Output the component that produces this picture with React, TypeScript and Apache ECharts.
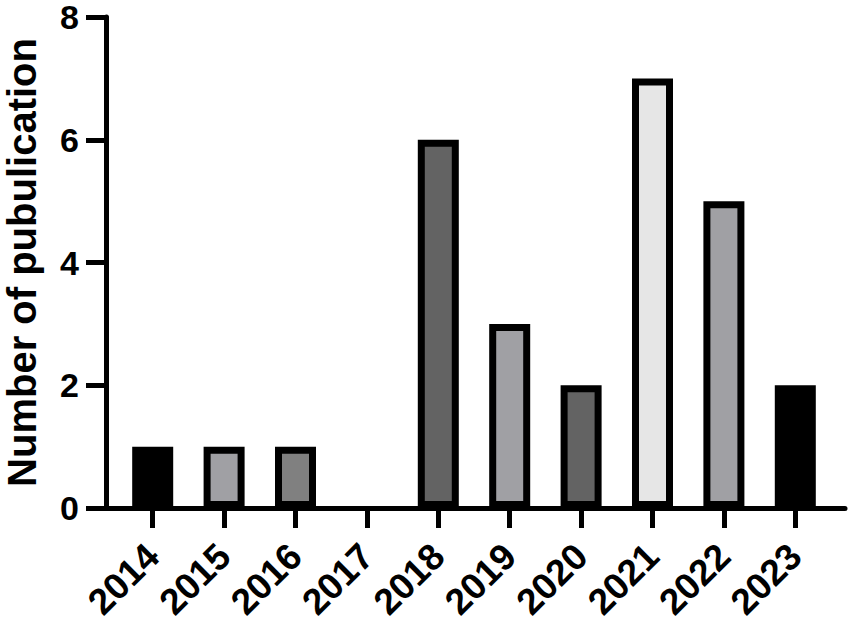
import React, { useEffect, useRef } from "react";
import * as echarts from "echarts";

const categories = ["2014", "2015", "2016", "2017", "2018", "2019", "2020", "2021", "2022", "2023"];
const values = [1, 1, 1, 0, 6, 3, 2, 7, 5, 2];
const barColors = ["#000000", "#a0a0a4", "#808080", "#808080", "#636363", "#a0a0a4", "#636363", "#e6e6e6", "#a0a0a4", "#000000"];
const yTicks = [0, 2, 4, 6, 8];
const yTitle = "Number of pubulication";

const FONT = "'Liberation Sans', Arial, Helvetica, sans-serif";

export default function App() {
  const ref = useRef<HTMLDivElement>(null);
  useEffect(() => {
    if (!ref.current) return;
    const chart = echarts.init(ref.current, undefined, { renderer: "svg" });
    chart.setOption({
      animation: false,
      backgroundColor: "#ffffff",
      grid: [
        { left: 117, right: 20, top: 17, bottom: 120, containLabel: false, outerBoundsMode: "none" },
        { left: 106, right: 6, top: 17, bottom: 120, containLabel: false, outerBoundsMode: "none" },
      ],
      xAxis: [
        {
          type: "category",
          gridIndex: 0,
          data: categories,
          boundaryGap: true,
          axisLine: { show: false },
          axisTick: {
            show: true,
            alignWithLabel: true,
            length: 20,
            lineStyle: { color: "#000", width: 5 },
          },
          axisLabel: {
            rotate: 45,
            margin: 42,
            color: "#000",
            fontFamily: FONT,
            fontWeight: "bold",
            fontSize: 37,
            lineHeight: 30,
            interval: 0,
          },
        },
        {
          type: "value",
          gridIndex: 1,
          min: 0,
          max: 1,
          axisLine: { show: true, lineStyle: { color: "#000", width: 5 } },
          axisTick: { show: false },
          axisLabel: { show: false },
          splitLine: { show: false },
        },
      ],
      yAxis: [
        {
          type: "value",
          gridIndex: 0,
          min: 0,
          max: 8,
          interval: 2,
          offset: 11,
          name: yTitle,
          nameLocation: "middle",
          nameGap: 66,
          nameTextStyle: {
            color: "#000",
            fontFamily: FONT,
            fontWeight: "bold",
            fontSize: 40,
            lineHeight: 36,
          },
          axisLine: { show: true, lineStyle: { color: "#000", width: 5 } },
          axisTick: { show: true, length: 20, lineStyle: { color: "#000", width: 5 } },
          axisLabel: {
            margin: 27,
            color: "#000",
            fontFamily: FONT,
            fontWeight: "bold",
            fontSize: 34,
            lineHeight: 26,
            formatter: (v: number) => (yTicks.includes(v) ? String(v) : ""),
          },
          splitLine: { show: false },
        },
        {
          type: "value",
          gridIndex: 1,
          min: 0,
          max: 8,
          show: false,
        },
      ],
      series: [
        {
          type: "bar",
          xAxisIndex: 0,
          yAxisIndex: 0,
          barWidth: 41,
          data: values.map((v, i) => ({
            value: v,
            itemStyle: {
              color: barColors[i],
              borderColor: "#000",
              borderWidth: v > 0 ? 7 : 0,
            },
          })),
        },
      ],
    });
    return () => chart.dispose();
  }, []);
  return (
    <div
      ref={ref}
      style={{ width: 851, height: 628, position: "fixed", left: 0, top: 0 }}
    />
  );
}
